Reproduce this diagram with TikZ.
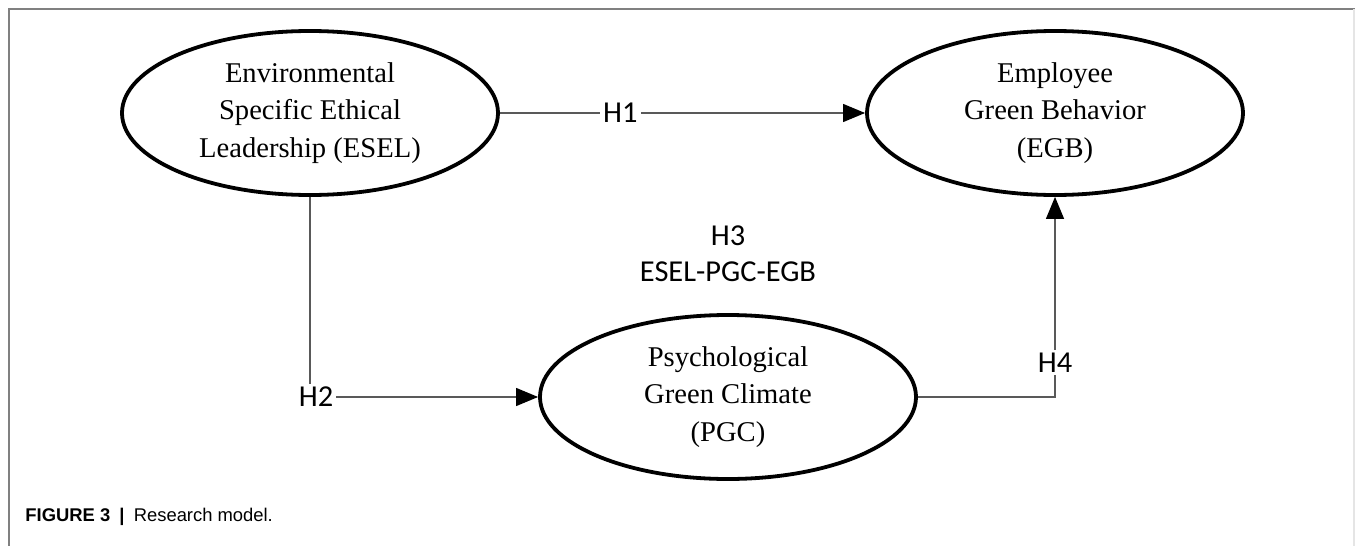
\documentclass[tikz,border=0pt]{standalone}
\usepackage{fontspec}
\setmainfont{Liberation Serif}
\newfontfamily\hlabelfont{Carlito}
\newfontfamily\captionfont{Liberation Sans}
\usetikzlibrary{arrows.meta,shapes.geometric}
\begin{document}
\begin{tikzpicture}[x=0.5pt,y=-0.5pt,
        construct/.style={ellipse,draw,line width=1.9pt,minimum width=188pt,minimum height=82pt,
            inner sep=0pt,align=center,font=\fontsize{14.3}{18.8}\selectfont},
        path/.style={draw=black!65,line width=0.6pt,-{Triangle[length=11pt,width=9pt,color=black]}},
        hyp/.style={fill=white,inner sep=1.5pt,font=\hlabelfont\fontsize{15.2}{18}\selectfont},
        frameline/.style={draw=black!50,line width=0.8pt}]
    \useasboundingbox (0,0) rectangle (1355,546);
    % frame
    \draw[frameline] (9,546) -- (9,9) -- (1355,9);
    \draw[draw=black!10,line width=0.6pt] (1354,9) -- (1354,546);
    % constructs
    \node[construct] (ESEL) at (310,113) {Environmental\\Specific Ethical\\Leadership (ESEL)};
    \node[construct] (EGB) at (1055,113) {Employee\\Green Behavior\\(EGB)};
    \node[construct] (PGC) at (728,397) {Psychological\\Green Climate\\(PGC)};
    % hypotheses
    \draw[path] (ESEL) -- node[hyp,pos=0.33] {H1} (EGB);
    \draw[path] (ESEL.south) |- node[hyp,pos=0.5,xshift=3pt] {H2} (PGC.west);
    \draw[path] (PGC.east) -| node[hyp,pos=0.586] {H4} (EGB.south);
    \node[hyp,align=center] (H3) at (728,254) {H3\\ESEL-PGC-EGB};
    % caption
    \node[anchor=base west,inner sep=0pt,font=\captionfont\fontsize{9.2}{11}\selectfont] (cap) at (25,521)
        {\textbf{FIGURE 3}\hspace{0.5em}\textbf{|}\hspace{0.5em}Research model.};
\end{tikzpicture}
\end{document}
